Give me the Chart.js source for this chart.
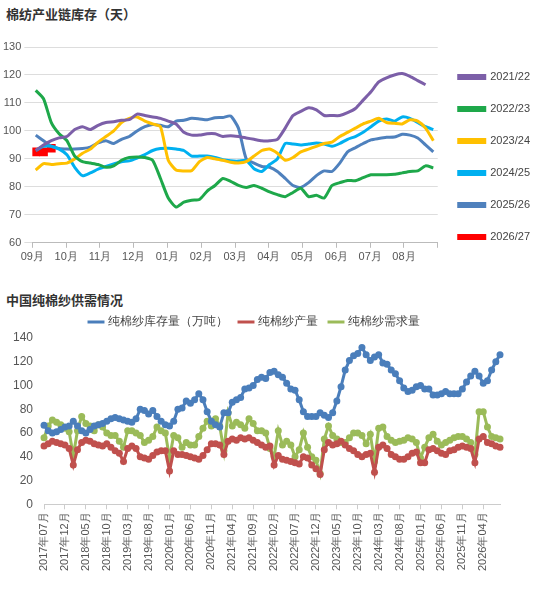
<!DOCTYPE html>
<html><head><meta charset="utf-8">
<script src="https://cdn.jsdelivr.net/npm/chart.js@4"></script>
<style>
body{margin:0;background:#fff;font-family:"Noto Sans CJK SC","Noto Sans",sans-serif;}
.t{position:absolute;left:6px;font-weight:bold;font-size:13px;color:#333;}
#w1{position:absolute;left:0;top:22px;width:550px;height:245px;}
#w2{position:absolute;left:0;top:304px;width:550px;height:288px;}
</style></head><body>
<div class="t" style="top:4px">棉纺产业链库存（天）</div>
<div class="t" style="top:290px">中国纯棉纱供需情况</div>
<div id="w1"><canvas id="c1"></canvas></div>
<div id="w2"><canvas id="c2"></canvas></div>
<script>
const months=["09月","10月","11月","12月","01月","02月","03月","04月","05月","06月","07月","08月",""];
const s2122=[93,95,96.5,97.5,98,100.5,101.5,100.5,102,103,103.3,103.8,104,106,105.5,105,104.5,103.5,102.5,99.5,98.5,98.5,99,99,98,98.3,98,97.5,97,96.5,96.5,97,101,105.5,107,108.3,107.5,105.5,105.5,105.5,106.5,108,111,114,117.5,119,120,120.5,119.5,118,116.5];
const s2223=[114.5,111.5,103,99,96.5,91,89,88.5,88,87,87.5,89.5,90.5,90.7,90.5,89.5,83,76,72.8,74.5,75.2,75.5,78.5,80.5,83,82,80.5,79.8,80.5,79.5,78.2,77.2,76.5,78,79.5,76.5,77,76,80.5,81.5,82.3,82.2,83.3,84.3,84.3,84.3,84.5,85,85.5,85.7,87.5,86.8];
const s2324=[86,88.3,88,88.3,88.5,90,92,93.5,96,98,100,103,104.5,105,103.5,102.5,101.5,89.5,86,85.7,85.8,89,90.5,90,89.5,88.8,88.5,89,91,93,93.5,92,89.5,90.5,92.5,93.5,94.5,95.5,96,98,99.5,101,102.5,103.5,104.5,103,102.7,102.5,104,103.5,101,96.5];
const s2425=[93,94.5,94.5,93.5,91.5,87,84,85,86.3,87.3,88.2,89,89.3,90.3,91.5,93,93.7,93.8,93.5,93,91,91,91,90.5,89.7,89.3,89.2,89.5,86.5,85.5,88,90,95.5,95.3,95,95.3,95.7,95.3,94.5,95.5,97,98,99.5,101.5,103.5,104.3,103.5,105,104.5,103,101.5,100.5];
const s2526=[98.5,96.5,94.5,93.7,93.5,93.5,93.7,94.2,95.7,96.5,95.5,97,98,100,101.5,102.3,102,101.5,103.5,103.8,104.5,104.3,104,104.7,104.8,105.3,101,90,88.5,87.3,87,85.5,83,80.5,79.8,81.5,84,85.7,85.5,88.5,92.5,94,95.5,96.8,97.3,97.7,97.8,98.8,98.5,97.5,95,92.5];
const s2627=[92.5,92.5,93.8];
const seasons=[["2021/22",s2122,"#7c5fa8"],["2022/23",s2223,"#1ea84a"],["2023/24",s2324,"#ffc000"],["2024/25",s2425,"#00b0f0"],["2025/26",s2526,"#4f81bd"],["2026/27",s2627,"#ff0000"]];
const toXY=a=>a.map((v,i)=>({x:0.1+i*12/52,y:v}));
new Chart(document.getElementById('c1'),{type:'line',
 data:{datasets:seasons.map(([n,a,c],k)=>({label:n,data:toXY(a),borderColor:c,backgroundColor:c,borderWidth:3,
   pointRadius:k===5?4:0,pointStyle:'rect',tension:0.2}))},
 options:{responsive:true,maintainAspectRatio:false,animation:false,
  layout:{padding:{left:0,right:10,top:25,bottom:0}},
  plugins:{legend:{position:'right',align:'center',labels:{boxWidth:26,boxHeight:3,padding:21,color:'#444',font:{size:11}}},tooltip:{enabled:false}},
  scales:{x:{type:'linear',min:0,max:12,ticks:{stepSize:1,color:'#555',font:{size:11},callback:(v)=>months[v]},
     grid:{drawOnChartArea:false,color:'#bbb',tickLength:5},border:{color:'#bbb'}},
   y:{min:60,max:130,ticks:{stepSize:10,color:'#555',font:{size:11}},grid:{color:'#ddd'},border:{display:false}}}}});

const dates=[];for(let y=2017,m=7;dates.length<110;){dates.push(y+"年"+String(m).padStart(2,'0')+"月");m++;if(m>12){m=1;y++;}}
const stock=[66.5,62,60,61,63,65,66,70,66,62,60,63,66,67,68,70,72,73,72,71,70,69,72,80,79,76,79,74,70,67,66,70,80,81,87,85,88,93,88,78,70,67,65,77,77,86,88,90,97,98,100,105,107,106,111,112,109,107,102,97,96,88,78,74,74,74,77,75,73,77,87,99,113,121,125,127,132,126,121,124,126,119,118,113,110,104,98,95,96,99,100,97,97,92,92,93,95,93,93,93,97,103,108,112,108,102,104,113,120,126];
const prod=[49,51,53,52,51,50,47,33,46,52,54,53,51,50,49,51,48,45,43,36,47,49,47,40,39,38,41,44,45,45,28,45,42,42,41,40,39,38,41,46,51,51,50,42,53,55,54,56,55,56,54,52,50,48,49,33,41,38,37,36,35,34,40,39,33,30,25,46,52,50,51,53,50,47,45,42,40,42,43,27,48,50,47,42,40,38,38,40,43,44,35,35,46,47,45,43,42,45,46,48,49,48,47,35,55,57,52,51,49,48];
const demand=[56,66,71,69,67,64,61,41,62,74,68,66,62,67,65,60,58,58,53,48,62,62,60,58,52,54,57,65,62,60,39,58,56,48,52,50,50,57,64,70,66,72,66,45,77,66,69,67,64,72,68,62,62,60,47,40,62,50,53,50,40,46,60,48,40,37,26,55,66,58,55,52,52,56,60,60,58,51,59,36,64,65,57,54,52,53,54,56,55,52,39,48,56,59,53,50,52,54,56,57,57,55,52,42,78,78,65,57,56,55];
const ser=[["纯棉纱库存量（万吨）",stock,"#4a7ebb"],["纯棉纱产量",prod,"#c0504d"],["纯棉纱需求量",demand,"#9bbb59"]];
new Chart(document.getElementById('c2'),{type:'line',
 data:{labels:dates,datasets:ser.map(([n,a,c])=>({label:n,data:a,borderColor:c,backgroundColor:c,borderWidth:3,pointRadius:3.5,pointBorderWidth:0,tension:0}))},
 options:{responsive:true,maintainAspectRatio:false,animation:false,
  layout:{padding:{left:10,right:50,top:0,bottom:18}},
  plugins:{legend:{labels:{usePointStyle:true,pointStyle:'line',boxWidth:30,padding:12,color:'#444',font:{size:12},
     generateLabels:(ch)=>ch.data.datasets.map((d,i)=>({text:d.label,strokeStyle:d.borderColor,fillStyle:d.borderColor,lineWidth:3,pointStyle:'line',datasetIndex:i,fontColor:'#444'}))}},tooltip:{enabled:false}},
  scales:{x:{offset:false,ticks:{autoSkip:false,maxRotation:90,minRotation:90,color:'#555',font:{size:11},callback:function(v,i){return i%5===0?this.getLabelForValue(v):'';}},
     grid:{drawOnChartArea:false,tickLength:5,color:(c)=>c.index%5===0?'#ccc':'rgba(0,0,0,0)'},border:{color:'#ccc'}},
   y:{min:0,max:140,ticks:{stepSize:20,color:'#555',font:{size:12}},grid:{display:false},border:{display:false}}}}});
</script></body></html>
